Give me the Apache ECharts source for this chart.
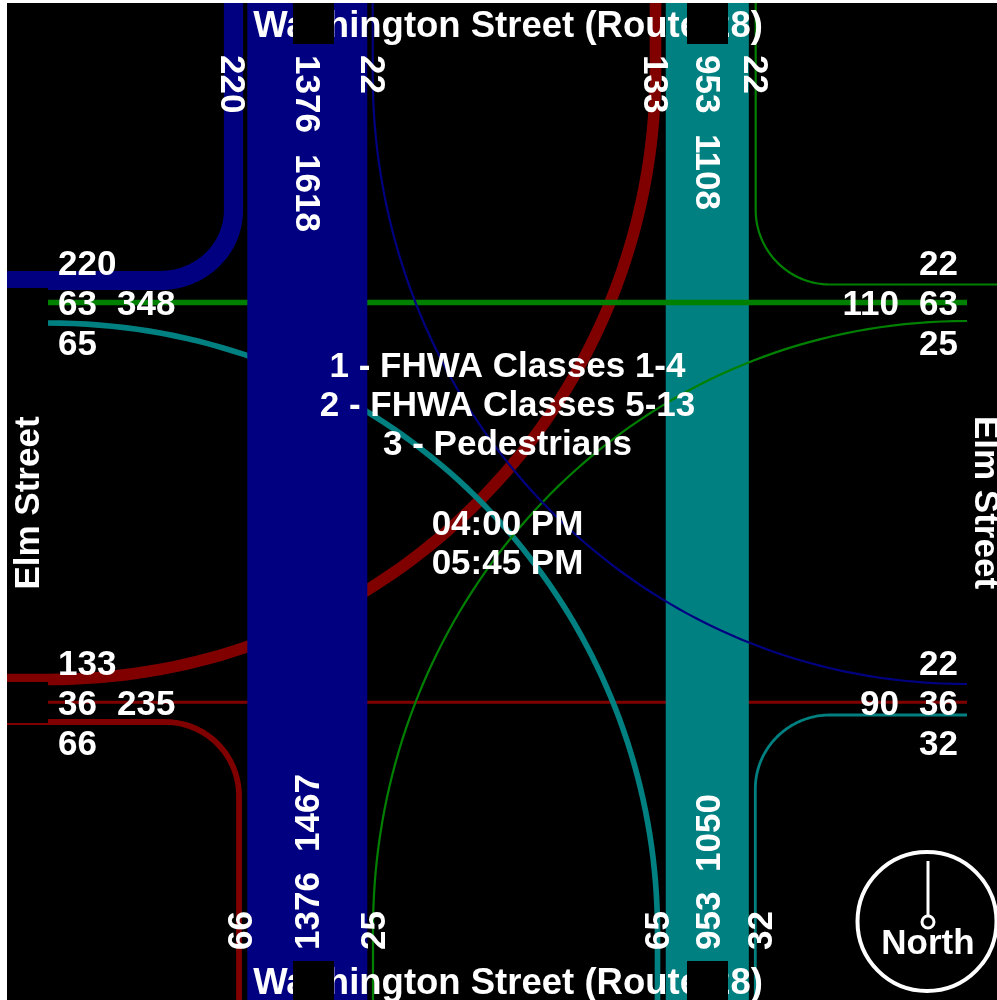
<!DOCTYPE html>
<html>
<head>
<meta charset="utf-8">
<title>Washington Street at Elm Street turning movements</title>
<style>html,body{margin:0;padding:0;background:#fff}#chart{width:997px;height:1000px}</style>
<script src="https://cdn.jsdelivr.net/npm/echarts@6/dist/echarts.min.js"></script>
</head>
<body>
<div id="chart"></div>
<script>
// ---- values ----
const movementNames = ['WB-SB 36 thru','NB turn 133','EB turn 66','Main thru 953','Left turn 65','Right turn 32','Thru 63','Right turn 25','Right turn 22','Main thru 1376','Left turn 220','Left turn 22'];
const movementVolumes = [36,133,66,953,65,32,63,25,22,1376,220,22];
const movementColors = ['#800000','#800000','#800000','#008080','#008080','#008080','#008000','#008000','#008000','#000080','#000080','#000080'];
const pixelsPerVehicle = 0.0872;
const thinnestLine = 2.2;

// routes in diagram coordinates: start point, then [end] for straight pieces or [c1, c2, end] for curves
const movementRoutes = [
  [[7,702.2],[[997,702.2]]],
  [[7,679.5],[[48,679.5]],[[394,679.5],[655.5,400],[655.5,70]],[[655.5,3]]],
  [[7,722],[[165,722]],[[206,722],[239,755],[239,796]],[[239,1000]]],
  [[707.3,3],[[707.3,1000]]],
  [[7,323],[[48,323]],[[395,323],[657.5,602],[657.5,932]],[[657.5,1000]]],
  [[997,715],[[830,715]],[[789,715],[755.3,748],[755.3,789]],[[755.3,1000]]],
  [[7,302.5],[[997,302.5]]],
  [[997,321],[[967,321]],[[628,321],[373,600],[373,930]],[[373,1000]]],
  [[755.7,3],[[755.7,210]],[[755.7,251],[789,284.5],[830,284.5]],[[997,284.5]]],
  [[307.3,3],[[307.3,1000]]],
  [[233.5,3],[[233.5,210]],[[233.5,249],[201,280.5],[160,280.5]],[[7,280.5]]],
  [[372.7,3],[[372.7,74]],[[372.7,404],[628,684],[967,684]],[[997,684]]]
];

const streetNames = ['Washington Street (Route 28)','Washington Street (Route 28)'];
const streetAnchors = [[508,27],[508,984]];
const sideNames = ['Elm Street','Elm Street'];
const sideAnchors = [[29.5,503,1],[985,502.5,-1]];

const maskBoxes = [[293,3,41,41],[687,3,41,41],[293,961,41,39],[687,961,41,39],[7,288,41,40],[967,288,30,40],[7,682,41,41],[967,682,30,41]];

const labelTexts = ['220','63','348','65','133','36','235','66',
  '22','110','63','25','22','90','36','32',
  '220','1376','1618','22','133','953','1108','22',
  '66','1376','1467','25','65','953','1050','32'];
const labelAnchors = [
  [58,265,'h'],[58,305,'h'],[117,305,'h'],[58,345,'h'],[58,665,'h'],[58,705,'h'],[117,705,'h'],[58,745,'h'],
  [958,265,'r'],[899,305,'r'],[958,305,'r'],[958,345,'r'],[958,665,'r'],[899,705,'r'],[958,705,'r'],[958,745,'r'],
  [231,55,'d'],[305.5,55,'d'],[305.5,154,'d'],[371,55,'d'],[654,55,'d'],[705.5,55,'d'],[705.5,134,'d'],[753.5,55,'d'],
  [242,950,'u'],[309,950,'u'],[309,852,'u'],[375,950,'u'],[659,950,'u'],[710,950,'u'],[710,872,'u'],[762,950,'u']
];

const noteTexts = ['1 - FHWA Classes 1-4','2 - FHWA Classes 5-13','3 - Pedestrians','04:00 PM','05:45 PM'];
const noteAnchors = [[507.5,367],[507.5,406],[507.5,445],[507.5,525],[507.5,564]];

const compassCenter = [927,921.5];
const compassNeedle = [[928,861],[928,916]];
const compassPivot = [928,922];
const compassText = 'North';
const compassTextAnchor = [928,944];

// ---- drawing ----
const FONT = 'bold 35px "Liberation Sans", Arial, sans-serif';
const STREET_FONT = 'bold 36.5px "Liberation Sans", Arial, sans-serif';

function sampleRoute(route, api) {
  const pts = [api.coord(route[0])];
  let p = route[0];
  for (let s = 1; s < route.length; s++) {
    const seg = route[s];
    if (seg.length === 1) {
      pts.push(api.coord(seg[0]));
    } else {
      for (let k = 1; k <= 80; k++) {
        const t = k / 80, u = 1 - t;
        const a = u*u*u, b = 3*u*u*t, c = 3*u*t*t, d = t*t*t;
        pts.push(api.coord([
          a*p[0] + b*seg[0][0] + c*seg[1][0] + d*seg[2][0],
          a*p[1] + b*seg[0][1] + c*seg[1][1] + d*seg[2][1]
        ]));
      }
    }
    p = seg[seg.length - 1];
  }
  return pts;
}

function textEl(text, at, api, font, align, rotation) {
  const c = api.coord(at);
  return {
    type: 'text', x: c[0], y: c[1], rotation: rotation || 0,
    style: { text: text, fill: '#fff', font: font, align: align, verticalAlign: 'middle' }
  };
}

const labelModes = {
  h: ['left', 0], r: ['right', 0], d: ['left', -Math.PI / 2], u: ['left', Math.PI / 2]
};

const option = {
  animation: false,
  backgroundColor: '#fff',
  tooltip: { show: false },
  grid: { show: true, left: 7, top: 3, right: 0, bottom: 0, backgroundColor: '#000', borderWidth: 0 },
  xAxis: { type: 'value', min: 7, max: 997, show: false },
  yAxis: { type: 'value', min: 3, max: 1000, inverse: true, show: false },
  series: [
    {
      name: 'Movements', type: 'custom', coordinateSystem: 'cartesian2d', silent: true, clip: true,
      data: movementVolumes.map((v, i) => [i, v, movementNames[i]]),
      encode: { x: 0, y: 1 },
      renderItem(params, api) {
        const i = api.value(0);
        return {
          type: 'polyline',
          shape: { points: sampleRoute(movementRoutes[i], api) },
          style: { fill: null, stroke: movementColors[i], lineWidth: Math.max(api.value(1) * pixelsPerVehicle, thinnestLine), lineJoin: 'round' }
        };
      }
    },
    {
      name: 'Streets', type: 'custom', coordinateSystem: 'cartesian2d', silent: true, clip: false,
      data: streetNames.map((s, i) => [i, 0]),
      renderItem(params, api) {
        const i = api.value(0);
        return textEl(streetNames[i], streetAnchors[i], api, STREET_FONT, 'center');
      }
    },
    {
      name: 'Masks', type: 'custom', coordinateSystem: 'cartesian2d', silent: true, clip: false,
      data: maskBoxes,
      renderItem(params, api) {
        const tl = api.coord([api.value(0), api.value(1)]);
        const br = api.coord([api.value(0) + api.value(2), api.value(1) + api.value(3)]);
        return { type: 'rect', shape: { x: tl[0], y: tl[1], width: br[0] - tl[0], height: br[1] - tl[1] }, style: { fill: '#000' } };
      }
    },
    {
      name: 'Side names', type: 'custom', coordinateSystem: 'cartesian2d', silent: true, clip: false,
      data: sideNames.map((s, i) => [i, 0]),
      renderItem(params, api) {
        const i = api.value(0), a = sideAnchors[i];
        return textEl(sideNames[i], [a[0], a[1]], api, FONT, 'center', a[2] * Math.PI / 2);
      }
    },
    {
      name: 'Volumes', type: 'custom', coordinateSystem: 'cartesian2d', silent: true, clip: false,
      data: labelTexts.map((s, i) => [i, Number(s)]),
      renderItem(params, api) {
        const i = api.value(0), a = labelAnchors[i], m = labelModes[a[2]];
        return textEl(labelTexts[i], [a[0], a[1]], api, FONT, m[0], m[1]);
      }
    },
    {
      name: 'Notes', type: 'custom', coordinateSystem: 'cartesian2d', silent: true, clip: false,
      data: noteTexts.map((s, i) => [i, 0]),
      renderItem(params, api) {
        const i = api.value(0);
        return textEl(noteTexts[i], noteAnchors[i], api, FONT, 'center');
      }
    },
    {
      name: 'Compass', type: 'custom', coordinateSystem: 'cartesian2d', silent: true, clip: false,
      data: [[0, 0]],
      renderItem(params, api) {
        const c = api.coord(compassCenter), n0 = api.coord(compassNeedle[0]), n1 = api.coord(compassNeedle[1]), p = api.coord(compassPivot);
        return {
          type: 'group',
          children: [
            { type: 'circle', shape: { cx: c[0], cy: c[1], r: 69.5 }, style: { fill: null, stroke: '#fff', lineWidth: 4 } },
            { type: 'line', shape: { x1: n0[0], y1: n0[1], x2: n1[0], y2: n1[1] }, style: { stroke: '#fff', lineWidth: 3 } },
            { type: 'circle', shape: { cx: p[0], cy: p[1], r: 6 }, style: { fill: null, stroke: '#fff', lineWidth: 3 } },
            textEl(compassText, compassTextAnchor, api, FONT, 'center')
          ]
        };
      }
    }
  ]
};
echarts.init(document.getElementById('chart'), null, { renderer: 'canvas' }).setOption(option);
</script>
</body>
</html>
